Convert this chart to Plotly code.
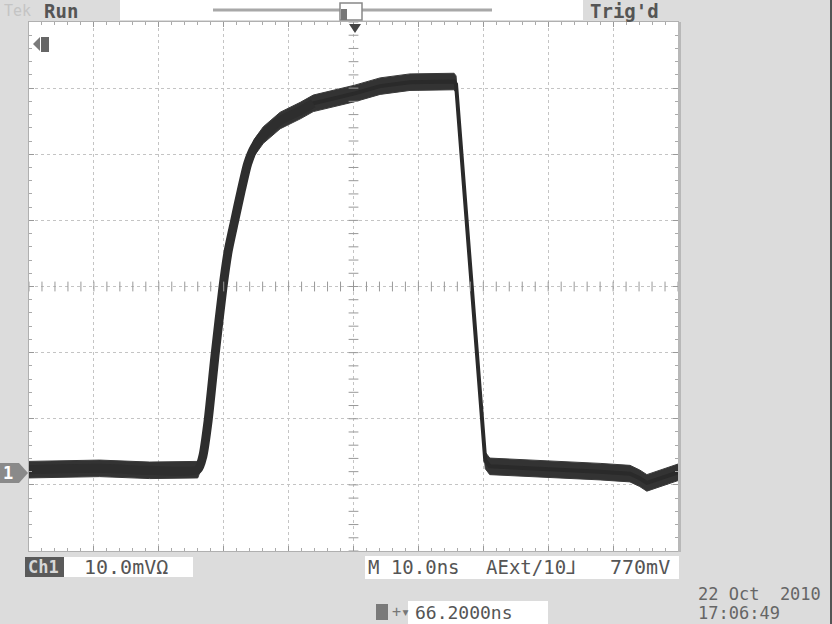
import numpy as np
import plotly.graph_objects as go

# waveform: time (ns from left edge), amplitude (mV)
t_ns = [0, 10.9, 18.6, 26.0, 26.8, 27.6, 28.7, 29.9, 30.7, 31.7, 32.7, 33.7, 34.7,
        36.1, 38.7, 41.8, 43.8, 50.2, 54.1, 58.7, 63.3, 65.5,
        65.8, 70.3, 71.0, 75.7, 81.8, 88.0, 92.6, 94.1, 95.2, 97.2, 100.0]
v_mv = [-27.7, -27.5, -27.8, -27.7, -25.6, -20.3, -10.1, 0.0, 5.4, 10.0, 14.5, 18.6, 21.0,
        22.9, 25.1, 26.6, 27.7, 29.2, 30.3, 30.9, 31.0, 31.0,
        30.6, -26.3, -27.2, -27.4, -27.7, -28.0, -28.3, -29.0, -29.7, -29.0, -28.1]
rise_end = 17  # rising edge has more jitter -> drawn wider

noise_mv = 1.25  # half thickness of the trace band

W, H = 832, 624
L, R, T, B = 29, 678, 22, 551   # graticule edges in pixels


def px(x):
    return (x - L) / (R - L)


def py(y):
    return (B - y) / (B - T)


GREY = "#dcdcdc"
TXT = "#555555"
MONO = "DejaVu Sans Mono"

fig = go.Figure()

upper = [v + noise_mv for v in v_mv]
lower = [v - noise_mv for v in v_mv]
fig.add_trace(go.Scatter(x=t_ns, y=upper, mode="lines", line=dict(color="#3a3a3a", width=1),
                         hoverinfo="skip", showlegend=False))
fig.add_trace(go.Scatter(x=t_ns, y=lower, mode="lines", line=dict(color="#3a3a3a", width=1),
                         fill="tonexty", fillcolor="#333333", hoverinfo="skip", showlegend=False))
fig.add_trace(go.Scatter(x=t_ns, y=v_mv, mode="lines", line=dict(color="#2a2a2a", width=4),
                         showlegend=False))
fig.add_trace(go.Scatter(x=t_ns[:rise_end], y=v_mv[:rise_end], mode="lines",
                         line=dict(color="#2e2e2e", width=9, shape="spline", smoothing=0.6),
                         showlegend=False))

# tick marks along the centre lines of the graticule
cx = np.arange(0, 100.01, 2)
cy = np.arange(-40, 40.01, 2)
fig.add_trace(go.Scatter(x=cx, y=np.zeros_like(cx), mode="markers", hoverinfo="skip",
                         marker=dict(symbol="line-ns", size=7, line=dict(color="#999999", width=1)),
                         showlegend=False))
fig.add_trace(go.Scatter(x=np.full_like(cy, 50), y=cy, mode="markers", hoverinfo="skip",
                         marker=dict(symbol="line-ew", size=7, line=dict(color="#999999", width=1)),
                         showlegend=False))

axis_common = dict(showgrid=True, gridcolor="#c4c4c4", griddash="dot", gridwidth=1,
                   zeroline=False, showticklabels=False, ticks="inside", ticklen=5,
                   tickcolor="#999999", mirror="ticks", showline=True, linecolor="#b0b0b0",
                   linewidth=1, fixedrange=True)
fig.update_xaxes(range=[0, 100], dtick=10, tick0=0,
                 minor=dict(dtick=2, ticks="inside", ticklen=3, tickcolor="#aaaaaa"),
                 **axis_common)
fig.update_yaxes(range=[-40, 40], dtick=10, tick0=0,
                 minor=dict(dtick=2, ticks="inside", ticklen=3, tickcolor="#aaaaaa"),
                 **axis_common)

shapes = []


def box(x0, y0, x1, y1, fill, line=None, lw=0, layer="below"):
    shapes.append(dict(type="rect", xref="paper", yref="paper", x0=px(x0), x1=px(x1),
                       y0=py(y1), y1=py(y0), fillcolor=fill, layer=layer,
                       line=dict(color=line or fill, width=lw)))


# status bar on top
box(120, 0, 583, 20, "white")
shapes.append(dict(type="line", xref="paper", yref="paper", x0=px(213), x1=px(492),
                   y0=py(10), y1=py(10), line=dict(color="#a8a8a8", width=3)))
box(340, 3, 362, 20, "white", "#888888", 1.5, layer="above")
box(341, 9, 347, 20, "#777777", layer="above")
# trigger position marker
shapes.append(dict(type="path", xref="paper", yref="paper",
                   path=f"M {px(349)},{py(24)} L {px(361)},{py(24)} L {px(355)},{py(33)} Z",
                   fillcolor="#444444", line=dict(width=0)))
# right border of the screen
shapes.append(dict(type="line", xref="paper", yref="paper", x0=px(679.5), x1=px(679.5),
                   y0=py(22), y1=py(552), line=dict(color="#b8b8b8", width=3)))
shapes.append(dict(type="line", xref="paper", yref="paper", x0=px(831), x1=px(831),
                   y0=py(0), y1=py(624), line=dict(color="#555555", width=2)))
# top-left marker in graticule
shapes.append(dict(type="path", xref="paper", yref="paper",
                   path=f"M {px(33)},{py(44)} L {px(40)},{py(37)} L {px(40)},{py(51)} Z",
                   fillcolor="#7a7a7a", line=dict(width=0)))
box(41, 37, 49, 52, "#666666", layer="above")
# channel 1 ground marker
shapes.append(dict(type="path", xref="paper", yref="paper",
                   path=(f"M {px(0)},{py(463)} L {px(19)},{py(463)} L {px(28)},{py(473)} "
                         f"L {px(19)},{py(483)} L {px(0)},{py(483)} Z"),
                   fillcolor="#8a8a8a", line=dict(width=0)))
# bottom readouts
box(25, 557, 64, 577, "#5a5a5a")
box(64, 557, 193, 577, "white")
box(365, 556, 679, 579, "white")
box(408, 601, 548, 624, "white")
box(376, 604, 388, 620, "#7a7a7a", layer="above")

annotations = []


def text(x, y, s, size=20, color=TXT, bold=False, anchor="left"):
    if bold:
        s = f"<b>{s}</b>"
    annotations.append(dict(x=px(x), y=py(y), xref="paper", yref="paper", text=s,
                            showarrow=False, xanchor=anchor, yanchor="middle",
                            font=dict(family=MONO, size=size, color=color)))


text(2, 11, "Tek", 15, "#c4c4c4")
text(42, 11, "Run", 19, "#555555", bold=True)
text(588, 11, "Trig'd", 19, "#555555", bold=True)
text(1, 473, "1", 17, "white", bold=True)
text(26, 567, "Ch1", 17, "#d8d8d8", bold=True)
text(82, 567, "10.0mVΩ", 20)
text(366, 567, "M 10.0ns", 19)
text(484, 567, "AExt/10\u2143", 19)
text(608, 567, "770mV", 20)
text(390, 612, "+▾", 15, "#777777")
text(413, 612, "66.2000ns", 18)
text(696, 594, "22 Oct  2010", 17, "#666666")
text(696, 613, "17:06:49", 17, "#666666")

fig.update_layout(
    width=W, height=H, autosize=False,
    margin=dict(l=L, r=W - R, t=T, b=H - B, pad=0),
    paper_bgcolor=GREY, plot_bgcolor="white",
    shapes=shapes, annotations=annotations, showlegend=False,
)

fig.write_html("out.html", config={"displayModeBar": False},
               post_script="document.body.style.margin='0';document.body.style.overflow='hidden';")
